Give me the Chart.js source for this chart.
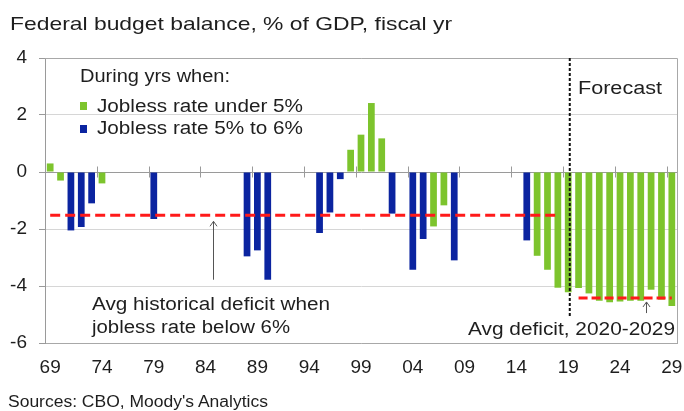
<!DOCTYPE html>
<html>
<head>
<meta charset="utf-8">
<script src="https://cdn.jsdelivr.net/npm/chart.js@4.4.1/dist/chart.umd.min.js"></script>
<style>
  body { margin: 0; background: #fff; }
  #wrap { position: relative; width: 684px; height: 411px; overflow: hidden; background: #fff;
          font-family: "Liberation Sans", Arial, sans-serif; color: #1e1e1e; }
  #c { position: absolute; left: 0; top: 0; }
  .t { position: absolute; white-space: nowrap; line-height: 1; transform-origin: 0 0; }
  .sw { position: absolute; width: 7px; height: 8px; }
</style>
</head>
<body>
<div id="wrap"><canvas id="c" width="684" height="411"></canvas></div>
<script>
// fiscal years 1969-2029
const years = [
  '1969','1970','1971','1972','1973','1974','1975','1976','1977','1978',
  '1979','1980','1981','1982','1983','1984','1985','1986','1987','1988',
  '1989','1990','1991','1992','1993','1994','1995','1996','1997','1998',
  '1999','2000','2001','2002','2003','2004','2005','2006','2007','2008',
  '2009','2010','2011','2012','2013','2014','2015','2016','2017','2018',
  '2019','2020','2021','2022','2023','2024','2025','2026','2027','2028',
  '2029'
];
const tickLabels = ['69','74','79','84','89','94','99','04','09','14','19','24','29'];

// budget balance, % of GDP — years with jobless rate under 5%
const under5 = [
  0.3, -0.3, null, null, null,
  -0.4, null, null, null, null,
  null, null, null, null, null,
  null, null, null, null, null,
  null, null, null, null, null,
  null, null, null, null, 0.78,
  1.31, 2.42, 1.18, null, null,
  null, null, -1.91, -1.17, null,
  null, null, null, null, null,
  null, null, -2.94, -3.43, -4.06,
  -4.22, -4.07, -4.26, -4.52, -4.57,
  -4.54, -4.52, -4.52, -4.13, -4.48,
  -4.7
];
// years with jobless rate 5% to 6%
const from5to6 = [
  null, null, -2.05, -1.93, -1.1,
  null, null, null, null, null,
  -1.65, null, null, null, null,
  null, null, null, null, -2.96,
  -2.75, -3.78, null, null, null,
  null, -2.14, -1.42, -0.25, null,
  null, null, null, -1.46, null,
  -3.43, -2.35, null, null, -3.1,
  null, null, null, null, null,
  null, -2.4, null, null, null,
  null, null, null, null, null,
  null, null, null, null, null,
  null
];

const histAvg = -1.52, histFrom = '1969', histTo = '2018';
const fcstAvg = -4.42, fcstFrom = '2020', fcstTo = '2029';

const histLine = years.map(y => (y >= histFrom && y <= histTo) ? histAvg : null);
const fcstLine = years.map(y => (y >= fcstFrom && y <= fcstTo) ? fcstAvg : null);

const FONT = '"Liberation Sans", Arial, sans-serif';
const GREEN = '#7dc42d', BLUE = '#0b24a0', RED = '#ff1a1a';

const decor = {
  id: 'decor',
  beforeDatasetsDraw(chart) {
    const { ctx, chartArea: a, scales: { x, y } } = chart;
    ctx.save();
    ctx.strokeStyle = '#a8a8a8';
    ctx.lineWidth = 1;
    ctx.beginPath();
    ctx.moveTo(a.left, Math.round(a.top) + 0.5);
    ctx.lineTo(Math.round(a.right) + 0.5, Math.round(a.top) + 0.5);
    ctx.lineTo(Math.round(a.right) + 0.5, a.bottom);
    ctx.stroke();
    // tick marks across the zero line, between categories
    const y0 = Math.round(y.getPixelForValue(0)) + 0.5;
    ctx.strokeStyle = '#9a9a9a';
    ctx.beginPath();
    for (let i = 5; i < years.length; i += 5) {
      const bx = Math.round((x.getPixelForValue(i - 1) + x.getPixelForValue(i)) / 2) + 0.5;
      ctx.moveTo(bx, y0 - 6);
      ctx.lineTo(bx, y0 + 5);
    }
    ctx.stroke();
    ctx.restore();
  },
  afterDatasetsDraw(chart) {
    const { ctx, chartArea: a, scales: { x, y } } = chart;
    ctx.save();
    // forecast divider
    const step = x.getPixelForValue(51) - x.getPixelForValue(50);
    const xd = x.getPixelForValue(50) + step * 0.15;
    ctx.strokeStyle = '#111';
    ctx.lineWidth = 2;
    ctx.setLineDash([3, 2]);
    ctx.beginPath();
    ctx.moveTo(xd, a.top);
    ctx.lineTo(xd, y.getPixelForValue(-5.05));
    ctx.stroke();
    ctx.setLineDash([]);
    // pointer arrows
    const arrow = (ax, y1, y2) => {
      ctx.strokeStyle = '#555';
      ctx.lineWidth = 1;
      ctx.beginPath();
      ctx.moveTo(ax, y1); ctx.lineTo(ax, y2);
      ctx.moveTo(ax - 3.5, y2 + 5); ctx.lineTo(ax, y2); ctx.lineTo(ax + 3.5, y2 + 5);
      ctx.stroke();
    };
    arrow(Math.round(x.getPixelForValue(15.7)) + 0.5, y.getPixelForValue(-3.78), y.getPixelForValue(-1.73));
    arrow(Math.round(x.getPixelForValue(57.5)) + 0.5, y.getPixelForValue(-4.95), y.getPixelForValue(-4.56));
    ctx.restore();
  }
};

new Chart(document.getElementById('c'), {
  type: 'bar',
  data: {
    labels: years,
    datasets: [
      { type: 'line', data: histLine, borderColor: RED, borderWidth: 3, borderDash: [10, 5],
        pointRadius: 0, fill: false, order: 0 },
      { type: 'line', data: fcstLine, borderColor: RED, borderWidth: 3, borderDash: [9, 4],
        pointRadius: 0, fill: false, order: 0 },
      { label: 'Jobless rate under 5%', data: under5, backgroundColor: GREEN, grouped: false, order: 1 },
      { label: 'Jobless rate 5% to 6%', data: from5to6, backgroundColor: BLUE, grouped: false, order: 1 }
    ]
  },
  options: {
    responsive: false,
    animation: false,
    devicePixelRatio: 1,
    layout: { padding: { top: 58, right: 7, left: 0, bottom: 0 } },
    plugins: { legend: { display: false }, tooltip: { enabled: false } },
    datasets: { bar: { barPercentage: 0.65, categoryPercentage: 1 } },
    scales: {
      x: {
        grid: { display: false },
        border: { display: true, color: '#a8a8a8' },
        ticks: {
          autoSkip: false, maxRotation: 0, padding: 5, color: '#1e1e1e',
          font: { family: FONT, size: 19 },
          callback: (v, i) => i % 5 === 0 ? tickLabels[i / 5] : ''
        },
        afterFit: s => { s.height = 68; s.paddingLeft = 0; s.paddingRight = 0; }
      },
      y: {
        min: -6, max: 4,
        ticks: { stepSize: 2, padding: 12, color: '#1e1e1e', font: { family: FONT, size: 19 } },
        grid: {
          color: c => c.tick && c.tick.value === 0 ? '#9a9a9a' : '#d6d6d6',
          tickColor: '#9a9a9a', tickLength: 6
        },
        border: { color: '#9a9a9a' },
        afterFit: s => { s.width = 45; s.paddingTop = 0; s.paddingBottom = 0; }
      }
    }
  },
  plugins: [decor]
});

// text: x, baseline, font size, width in the picture
const texts = [
  { s: 'Federal budget balance, % of GDP, fiscal yr', x: 10, b: 30.5, f: 19, w: 442 },
  { s: 'During yrs when:', x: 80, b: 82.7, f: 18, w: 150 },
  { s: 'Jobless rate under 5%', x: 96.7, b: 112, f: 18, w: 206 },
  { s: 'Jobless rate 5% to 6%', x: 96.7, b: 134.7, f: 18, w: 206 },
  { s: 'Forecast', x: 578.3, b: 94, f: 18, w: 84 },
  { s: 'Avg historical deficit when', x: 91.7, b: 310.7, f: 18, w: 238 },
  { s: 'jobless rate below 6%', x: 91.7, b: 333, f: 18, w: 198 },
  { s: 'Avg deficit, 2020-2029', x: 468.3, b: 335, f: 18, w: 207 },
  { s: "Sources: CBO, Moody's Analytics", x: 8, b: 408, f: 16, w: 260 }
];
const wrap = document.getElementById('wrap');
texts.forEach(t => {
  const d = document.createElement('div');
  d.className = 't';
  d.textContent = t.s;
  d.style.fontSize = t.f + 'px';
  d.style.left = t.x + 'px';
  d.style.top = (t.b - 0.8465 * t.f) + 'px';
  wrap.appendChild(d);
  const k = t.w / d.getBoundingClientRect().width;
  d.style.transform = 'scaleX(' + k.toFixed(3) + ')';
});
[[GREEN, 101.5], [BLUE, 125.3]].forEach(([c, top]) => {
  const s = document.createElement('div');
  s.className = 'sw';
  s.style.left = '80px';
  s.style.top = top + 'px';
  s.style.background = c;
  wrap.appendChild(s);
});
</script>
</body>
</html>
